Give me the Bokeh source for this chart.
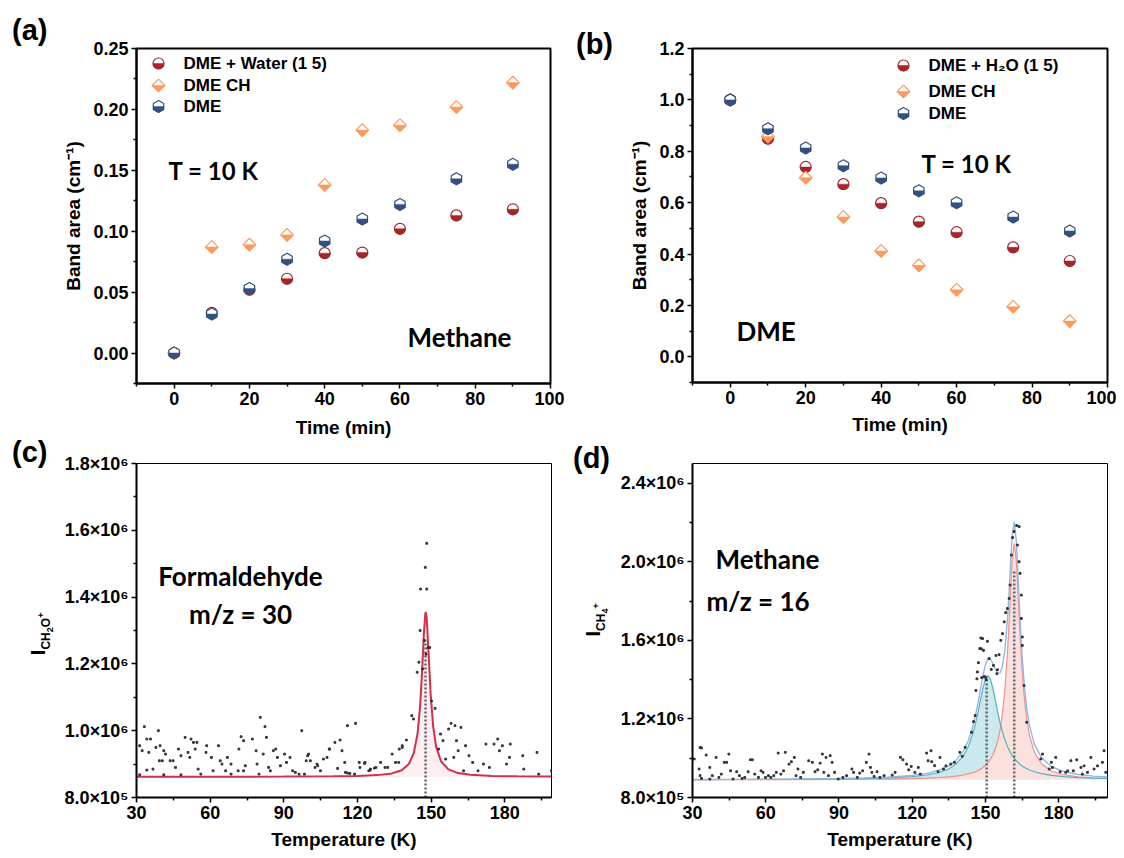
import numpy as np
from bokeh.plotting import figure
from bokeh.models import Range1d, FixedTicker, Label, NumeralTickFormatter, GridBox, Div
from bokeh.embed import file_html
from bokeh.resources import INLINE

# ---------------- data: panels (a) and (b) ----------------
time_min = [0, 10, 20, 30, 40, 50, 60, 75, 90]
a_dme_water = [0.0, 0.033, 0.052, 0.061, 0.082, 0.0825, 0.102, 0.113, 0.118]
a_dme_ch = [0.0, 0.087, 0.089, 0.097, 0.138, 0.183, 0.187, 0.202, 0.222]
a_dme = [0.0, 0.032, 0.053, 0.077, 0.092, 0.110, 0.122, 0.143, 0.155]

b_dme_water = [1.0, 0.849, 0.739, 0.672, 0.598, 0.526, 0.485, 0.426, 0.373]
b_dme_ch = [1.0, 0.857, 0.697, 0.544, 0.412, 0.356, 0.261, 0.195, 0.139]
b_dme = [1.0, 0.888, 0.813, 0.744, 0.696, 0.646, 0.600, 0.544, 0.490]

a_legend = ["DME + Water (1 5)", "DME CH", "DME"]
b_legend = ["DME + H\u2082O (1 5)", "DME CH", "DME"]

# ---------------- data: panel (c) TPD m/z = 30 (intensity in 1e6) ----------------
c_T = [33.2, 31.3, 32.3, 34.2, 35.0, 34.2, 31.3, 35.7, 36.7, 38.9,
       37.9, 39.6, 39.3, 40.5, 41.1, 41.8, 41.1, 43.7, 44.9, 45.9,
       47.1, 48.1, 48.1, 49.8, 51.0, 51.7, 52.2, 53.2, 54.6, 53.9,
       55.1, 56.2, 58.6, 58.3, 60.5, 61.2, 63.4, 64.1, 64.8, 66.3,
       67.0, 68.5, 68.5, 71.7, 72.6, 71.4, 73.6, 73.6, 74.3, 77.2,
       78.7, 79.1, 79.9, 80.4, 81.6, 82.3, 82.9, 83.8, 84.5, 85.7,
       86.7, 87.4, 88.6, 90.3, 91.1, 92.5, 93.6, 94.7, 96.2, 97.3,
       98.4, 99.1, 100.1, 100.8, 102.7, 103.5, 104.9, 106.1, 107.6, 108.6,
       110.8, 112.9, 113.7, 114.8, 115.9, 115.1, 116.9, 119.2, 118.8, 120.7,
       121.0, 123.1, 124.6, 125.3, 127.5, 129.4, 131.2, 134.1, 135.5, 137.0,
       138.2, 139.9, 142.1, 142.8, 144.3, 145.0, 145.5, 145.7, 146.5, 147.2,
       147.6, 148.2, 148.2, 147.9, 148.7, 149.4, 150.1, 151.6, 153.0, 153.8,
       154.8, 155.9, 157.1, 158.1, 159.2, 159.7, 161.0, 162.1, 160.3, 163.2,
       164.0, 165.4, 166.9, 169.1, 171.3, 172.3, 173.7, 175.6, 177.1, 177.8,
       179.0, 180.7, 182.2, 181.9, 187.3, 187.7, 193.1, 193.8, 199.0, 111.9,
       116.0, 125.1, 132.3, 136.8, 138.2, 99.7, 103.8, 108.5, 126.9, 122.8]
c_I = [1.012, 0.955, 0.940, 0.975, 0.935, 0.882, 0.868, 0.975, 0.885, 1.000,
       0.950, 0.955, 0.910, 0.910, 0.940, 0.930, 0.868, 0.910, 0.910, 0.890,
       0.945, 0.925, 0.868, 0.980, 0.935, 0.920, 0.975, 0.965, 0.965, 0.945,
       0.885, 0.870, 0.955, 0.935, 0.920, 0.880, 0.955, 0.910, 0.900, 0.880,
       0.920, 0.900, 0.870, 0.945, 0.982, 0.880, 0.970, 0.880, 0.895, 0.975,
       0.940, 0.900, 0.870, 1.040, 0.930, 1.012, 0.980, 0.890, 0.880, 0.940,
       0.945, 0.920, 0.895, 0.930, 0.905, 0.920, 0.880, 0.875, 0.870, 1.000,
       0.870, 0.910, 0.930, 0.910, 0.890, 0.900, 0.880, 0.915, 0.920, 0.945,
       0.965, 0.972, 0.940, 0.905, 1.015, 0.875, 0.872, 1.022, 0.870, 0.905,
       0.890, 0.905, 0.880, 0.885, 0.890, 0.905, 0.890, 0.930, 0.905, 0.945,
       0.955, 0.972, 1.045, 1.035, 1.175, 1.205, 1.300, 1.424, 1.185, 1.270,
       1.489, 1.561, 1.424, 1.229, 1.249, 1.249, 1.089, 1.067, 0.945, 0.990,
       0.970, 0.915, 1.005, 1.022, 0.920, 1.015, 0.940, 1.010, 0.970, 0.880,
       0.955, 0.925, 0.905, 0.880, 0.900, 0.960, 0.890, 0.960, 0.975, 0.940,
       0.955, 0.900, 0.960, 0.920, 0.925, 0.885, 0.935, 0.870, 0.880, 0.887,
       0.873, 0.882, 0.890, 0.905, 0.950, 0.925, 0.895, 0.945, 0.888, 0.902]

# fitted curve (c)
c_fit_T = [30, 60, 90, 110, 120, 128, 134, 138, 141, 143,
           144.5, 145.5, 146.3, 147, 147.6, 147.8, 148.2, 149, 149.8, 150.8,
           152, 154, 157, 161, 166, 175, 185, 199]
c_fit_I = [0.8621, 0.8623, 0.8626, 0.8634, 0.8645, 0.8670, 0.8722, 0.8817, 0.9013, 0.9350,
           0.9944, 1.0743, 1.1775, 1.2870, 1.3500, 1.3550, 1.3360, 1.2245, 1.1085, 1.0137,
           0.9531, 0.9085, 0.8843, 0.8731, 0.8679, 0.8647, 0.8634, 0.8628]
c_baseline = 0.862
c_peak_T = [147.7]
c_peak_top = [1.27]

# ---------------- data: panel (d) TPD m/z = 16 (intensity in 1e6) ----------------
d_T = [30.7, 33.1, 33.7, 32.7, 33.1, 33.7, 35.6, 37.1, 37.1, 38.1,
       39.7, 40.8, 41.8, 43.0, 44.0, 44.9, 45.6, 46.6, 48.1, 49.2,
       50.3, 51.4, 52.8, 53.7, 54.5, 55.5, 57.0, 58.1, 58.9, 59.9,
       61.1, 62.1, 63.3, 64.3, 65.1, 66.2, 67.3, 68.0, 69.5, 70.5,
       71.7, 72.4, 73.2, 74.3, 75.4, 77.6, 79.1, 80.2, 81.3, 82.3,
       83.2, 83.8, 84.7, 85.7, 86.4, 87.2, 88.2, 89.7, 91.6, 93.1,
       95.3, 96.0, 97.5, 98.5, 99.7, 101.2, 102.3, 102.9, 103.5, 104.4,
       105.6, 106.8, 108.5, 111.8, 113.0, 115.2, 116.2, 117.7, 118.6, 119.6,
       121.1, 122.5, 123.3, 125.9, 126.5, 127.7, 128.0, 129.2, 130.6, 131.4,
       132.8, 133.8, 135.8, 137.3, 139.5, 140.5, 141.7, 144.3, 145.1, 145.8,
       146.1, 146.5, 146.7, 147.1, 147.7, 148.1, 148.8, 149.2, 149.9, 150.8,
       151.5, 152.4, 153.3, 154.3, 154.7, 155.6, 156.3, 157.0, 157.7, 158.3,
       159.0, 159.7, 160.1, 160.6, 161.1, 161.7, 162.8, 163.8, 163.1, 163.8,
       164.2, 164.7, 164.7, 165.1, 165.1, 165.8, 166.9, 172.7, 177.0, 178.8,
       177.4, 176.1, 180.6, 182.9, 185.0, 187.4, 186.0, 189.1, 189.7, 198.6,
       197.9, 199.3, 194.5, 193.2, 190.4, 195.9, 191.8, 183.7, 173.4, 148.3,
       148.5, 149.5, 150.3, 154.9]
d_I = [0.996, 1.055, 1.052, 0.945, 0.911, 0.897, 1.016, 0.953, 0.894, 0.911,
       1.004, 0.902, 0.919, 0.979, 0.979, 1.021, 0.936, 0.894, 0.931, 0.911,
       0.897, 0.902, 0.931, 0.992, 0.992, 0.919, 0.902, 0.936, 0.928, 0.902,
       0.911, 0.902, 0.911, 0.928, 1.026, 0.919, 0.936, 1.030, 0.970, 0.982,
       1.004, 0.911, 0.945, 0.902, 0.928, 0.987, 0.979, 0.931, 0.941, 0.975,
       1.021, 0.928, 1.004, 0.911, 1.013, 0.979, 0.928, 0.894, 0.902, 0.911,
       0.945, 0.928, 0.902, 0.924, 0.936, 0.979, 1.021, 0.953, 0.928, 0.907,
       0.931, 0.902, 0.911, 0.914, 0.928, 1.004, 0.992, 0.970, 0.941, 0.958,
       0.928, 0.953, 0.919, 1.026, 0.987, 1.038, 0.982, 0.962, 0.931, 1.004,
       0.945, 0.961, 0.970, 0.979, 1.030, 1.010, 1.055, 1.132, 1.186, 1.217,
       1.345, 1.404, 1.439, 1.486, 1.558, 1.612, 1.609, 1.549, 1.413, 1.595,
       1.507, 1.452, 1.472, 1.523, 1.430, 1.527, 1.600, 1.634, 1.694, 1.741,
       1.762, 1.813, 1.881, 2.034, 2.123, 2.154, 2.184, 2.179, 2.085, 2.000,
       1.941, 1.830, 1.711, 1.617, 1.574, 1.370, 1.183, 0.996, 0.979, 1.004,
       0.953, 0.945, 0.931, 0.928, 0.987, 0.992, 0.936, 0.953, 0.919, 1.038,
       0.979, 0.928, 0.945, 1.004, 0.961, 0.961, 0.928, 0.936, 1.021, 1.557,
       1.410, 1.415, 1.400, 1.450]

# fitted curves (d)
d_fit_T = [30, 50, 70, 90, 100, 110, 120, 126, 131, 135,
           138, 141, 143, 145, 146, 147, 148, 149, 150, 151,
           152, 153, 154, 155, 156, 157, 158, 159, 159.5, 160,
           160.5, 161, 161.8, 162.6, 163, 163.5, 164, 164.5, 165, 166,
           167, 168, 170, 173, 177, 182, 188, 194, 200]
d_fit_peak1 = [0.8911, 0.8916, 0.8924, 0.8943, 0.8961, 0.8994, 0.9062, 0.9145, 0.9273, 0.9460,
               0.9705, 1.0130, 1.0600, 1.1320, 1.1800, 1.2370, 1.2985, 1.3580, 1.4030, 1.4200,
               1.4030, 1.3580, 1.2985, 1.2370, 1.1800, 1.1320, 1.0923, 1.0600, 1.0464, 1.0341,
               1.0231, 1.0130, 0.9991, 0.9873, 0.9820, 0.9760, 0.9705, 0.9654, 0.9609, 0.9528,
               0.9460, 0.9402, 0.9310, 0.9212, 0.9127, 0.9062, 0.9015, 0.8985, 0.8966]
d_fit_peak2 = [0.8906, 0.8909, 0.8913, 0.8921, 0.8928, 0.8940, 0.8962, 0.8984, 0.9013, 0.9049,
               0.9088, 0.9145, 0.9199, 0.9272, 0.9319, 0.9376, 0.9443, 0.9527, 0.9631, 0.9762,
               0.9932, 1.0154, 1.0452, 1.0862, 1.1441, 1.2280, 1.3523, 1.5335, 1.6482, 1.7753,
               1.9036, 2.0140, 2.0940, 2.0140, 1.9279, 1.8014, 1.6729, 1.5552, 1.4532, 1.2968,
               1.1907, 1.1184, 1.0321, 0.9706, 0.9351, 0.9160, 0.9056, 0.9004, 0.8974]
d_fit_sum = [0.8917, 0.8925, 0.8937, 0.8964, 0.8989, 0.9034, 0.9124, 0.9229, 0.9386, 0.9609,
             0.9893, 1.0375, 1.0899, 1.1692, 1.2219, 1.2846, 1.3528, 1.4207, 1.4761, 1.5062,
             1.5062, 1.4834, 1.4537, 1.4332, 1.4341, 1.4700, 1.5546, 1.7035, 1.8046, 1.9194,
             2.0367, 2.1370, 2.2031, 2.1113, 2.0199, 1.8874, 1.7534, 1.6306, 1.5241, 1.3596,
             1.2467, 1.1686, 1.0731, 1.0018, 0.9578, 0.9322, 0.9171, 0.9089, 0.9040]
d_baseline = 0.890
d_peak_T = [150.5, 161.8]
d_peak_top = [1.415, 1.95]

# ---------------- ticks ----------------
time_ticks = [0, 20, 40, 60, 80, 100]
time_minor = [-10, 10, 30, 50, 70, 90]
a_yticks = [0.0, 0.05, 0.10, 0.15, 0.20, 0.25]
a_yminor = [-0.025, 0.025, 0.075, 0.125, 0.175, 0.225]
b_yticks = [0.0, 0.2, 0.4, 0.6, 0.8, 1.0, 1.2]
b_yminor = [-0.1, 0.1, 0.3, 0.5, 0.7, 0.9, 1.1]
T_ticks = [30, 60, 90, 120, 150, 180]
T_minor = [45, 75, 105, 135, 165, 195]
c_yticks = [800000, 1000000, 1200000, 1400000, 1600000, 1800000]
c_ylabels = ["8.0\u00d710\u2075", "1.0\u00d710\u2076", "1.2\u00d710\u2076",
             "1.4\u00d710\u2076", "1.6\u00d710\u2076", "1.8\u00d710\u2076"]
c_yminor = [900000, 1100000, 1300000, 1500000, 1700000]
d_yticks = [800000, 1200000, 1600000, 2000000, 2400000]
d_ylabels = ["8.0\u00d710\u2075", "1.2\u00d710\u2076", "1.6\u00d710\u2076",
             "2.0\u00d710\u2076", "2.4\u00d710\u2076"]
d_yminor = [1000000, 1400000, 1800000, 2200000]

# ---------------- styling ----------------
RED = "#A3262A"
ORANGE = "#FB9A5C"
BLUE = "#33507E"
FONT_AX = "Liberation Sans"
FONT_TXT = "Lato"

# geometry (page px): figure origin, borders, frame size, ranges
GA = dict(ox=0, oy=0, left=136, right=14, top=43, bottom=62, fw=414, fh=335,
          xr=(-10, 100), yr=(-0.025, 0.25), lstand=9)
GB = dict(ox=564, oy=0, left=128, right=9, top=48, bottom=58, fw=415, fh=334,
          xr=(-10, 100), yr=(-0.1, 1.2), lstand=7)
GC = dict(ox=0, oy=440, left=134, right=15, top=23, bottom=59, fw=415, fh=334,
          xr=(30, 199), yr=(800000, 1800000), lstand=7)
GD = dict(ox=564, oy=440, left=124, right=13, top=14, bottom=68, fw=415, fh=334,
          xr=(30, 200), yr=(800000, 2500000), lstand=7)


def gx(g, px):
    return g["xr"][0] + (px - g["ox"] - g["left"]) * (g["xr"][1] - g["xr"][0]) / g["fw"]


def gy(g, py):
    return g["yr"][1] - (py - g["oy"] - g["top"]) * (g["yr"][1] - g["yr"][0]) / g["fh"]


def make_panel(g, xt, xm, yt, ym, xlabel, ylabel, frame_lw):
    p = figure(width=g["left"] + g["fw"] + g["right"],
               height=g["top"] + g["fh"] + g["bottom"],
               frame_width=g["fw"], frame_height=g["fh"],
               x_range=Range1d(*g["xr"]), y_range=Range1d(*g["yr"]),
               min_border_left=g["left"], min_border_right=g["right"],
               min_border_top=g["top"], min_border_bottom=g["bottom"],
               output_backend="svg", toolbar_location=None)
    p.grid.visible = False
    p.outline_line_color = "black"
    p.outline_line_width = frame_lw
    p.outline_line_alpha = 1.0
    p.xaxis.ticker = FixedTicker(ticks=xt, minor_ticks=xm)
    p.yaxis.ticker = FixedTicker(ticks=yt, minor_ticks=ym)
    for ax in (p.xaxis[0], p.yaxis[0]):
        ax.axis_line_width = 2
        ax.axis_line_color = "black"
        ax.major_tick_in = 0
        ax.major_tick_out = 5
        ax.minor_tick_in = 0
        ax.minor_tick_out = 3
        ax.major_tick_line_width = 1.5
        ax.minor_tick_line_width = 1.5
        ax.major_tick_line_color = "black"
        ax.minor_tick_line_color = "black"
        ax.major_label_text_font = FONT_AX
        ax.major_label_text_font_style = "bold"
        ax.major_label_text_font_size = "18px"
        ax.major_label_text_color = "black"
        ax.major_label_standoff = 3
        ax.axis_label_text_font = FONT_AX
        ax.axis_label_text_font_style = "bold"
        ax.axis_label_text_font_size = "19px"
        ax.axis_label_text_color = "black"
    p.xaxis.axis_label_standoff = g["lstand"]
    p.yaxis.axis_label_standoff = 6
    p.xaxis.axis_label = xlabel
    if ylabel:
        p.yaxis.axis_label = ylabel
    return p


def half_marker(p, g, xs, ys, shape, color, size):
    xs = np.asarray(xs, dtype=float)
    ys = np.asarray(ys, dtype=float)
    sx = g["fw"] / (g["xr"][1] - g["xr"][0])
    sy = g["fh"] / (g["yr"][1] - g["yr"][0])
    r = size / 2.0
    if shape == "circle":
        p.scatter(xs, ys, marker="circle", size=size, fill_color="white",
                  line_color=color, line_width=1.2)
        p.wedge(xs, ys, radius=r, radius_units="screen", start_angle=np.pi,
                end_angle=2 * np.pi, fill_color=color, line_color=color, line_width=0.5)
    elif shape == "hex":
        p.scatter(xs, ys, marker="hex", angle=np.pi / 2, size=size, fill_color="white",
                  line_color=color, line_width=1.2)
        dx = 0.866 * r / sx
        dy1 = 0.5 * r / sy
        dy2 = r / sy
        pxs = [[x - dx, x + dx, x + dx, x, x - dx] for x in xs]
        pys = [[y, y, y - dy1, y - dy2, y - dy1] for y in ys]
        p.patches(pxs, pys, fill_color=color, line_color=color, line_width=0.5)
    else:  # diamond = square rotated 45 degrees
        p.scatter(xs, ys, marker="square", angle=np.pi / 4, size=size, fill_color="white",
                  line_color=color, line_width=1.2)
        R = size * np.sqrt(2) / 2.0
        pxs = [[x - R / sx, x + R / sx, x] for x in xs]
        pys = [[y, y, y - R / sy] for y in ys]
        p.patches(pxs, pys, fill_color=color, line_color=color, line_width=0.5)


def add_label(p, g, px, py, text, font, size, align="left", baseline="alphabetic"):
    p.add_layout(Label(x=gx(g, px), y=gy(g, py), text=text, text_font=font,
                       text_font_style="bold", text_font_size=size, text_color="black",
                       text_align=align, text_baseline=baseline))


SIZES = dict(circle=11, hex=12, diamond=9)

# ---------------- panel (a) ----------------
pa = make_panel(GA, time_ticks, time_minor, a_yticks, a_yminor,
                "Time (min)", "Band area (cm\u207b\u00b9)", 2)
pa.yaxis.formatter = NumeralTickFormatter(format="0.00")
for vals, shape, col in [(a_dme_water, "circle", RED), (a_dme_ch, "diamond", ORANGE),
                         (a_dme, "hex", BLUE)]:
    half_marker(pa, GA, time_min, vals, shape, col, SIZES[shape])
for (lbl, shape, col), py in zip(zip(a_legend, ["circle", "diamond", "hex"], [RED, ORANGE, BLUE]),
                                 [58, 80, 101]):
    half_marker(pa, GA, [gx(GA, 158)], [gy(GA, py)], shape, col, SIZES[shape])
    add_label(pa, GA, 183, py, lbl, FONT_AX, "17px", baseline="middle")
add_label(pa, GA, 168, 165, "T = 10 K", FONT_TXT, "24px")
add_label(pa, GA, 407, 331, "Methane", FONT_TXT, "26px")

# ---------------- panel (b) ----------------
pb = make_panel(GB, time_ticks, time_minor, b_yticks, b_yminor,
                "Time (min)", "Band area (cm\u207b\u00b9)", 2)
pb.yaxis.formatter = NumeralTickFormatter(format="0.0")
for vals, shape, col in [(b_dme_water, "circle", RED), (b_dme_ch, "diamond", ORANGE),
                         (b_dme, "hex", BLUE)]:
    half_marker(pb, GB, time_min, vals, shape, col, SIZES[shape])
for (lbl, shape, col), py in zip(zip(b_legend, ["circle", "diamond", "hex"], [RED, ORANGE, BLUE]),
                                 [65, 91, 113]):
    half_marker(pb, GB, [gx(GB, 903)], [gy(GB, py)], shape, col, SIZES[shape])
    add_label(pb, GB, 928, py, lbl, FONT_AX, "17px", baseline="middle")
add_label(pb, GB, 921, 163, "T = 10 K", FONT_TXT, "24px")
add_label(pb, GB, 736, 330, "DME", FONT_TXT, "26px")

# ---------------- panel (c) ----------------
pc = make_panel(GC, T_ticks, T_minor, c_yticks, c_yminor, "Temperature (K)", None, 1)
pc.yaxis.major_label_overrides = dict(zip(c_yticks, c_ylabels))
cfT = np.array(c_fit_T)
cfI = np.array(c_fit_I) * 1e6
pc.varea(x=cfT, y1=c_baseline * 1e6, y2=cfI, fill_color="#E88DA0", fill_alpha=0.15)
pc.line(cfT, cfI, line_color="#D32F4B", line_width=2)
pc.segment(x0=c_peak_T, y0=[800000] * len(c_peak_T), x1=c_peak_T,
           y1=[v * 1e6 for v in c_peak_top], line_color="#666666", line_width=2.5,
           line_dash="2 2")
pc.scatter(c_T, np.array(c_I) * 1e6, marker="square", size=1.8, color="#333333")
add_label(pc, GC, 238, 575, "Formaldehyde", FONT_TXT, "26px", align="center")
add_label(pc, GC, 238, 613, "m/z = 30", FONT_TXT, "26px", align="center")

# ---------------- panel (d) ----------------
pd = make_panel(GD, T_ticks, T_minor, d_yticks, d_yminor, "Temperature (K)", None, 1)
pd.yaxis.major_label_overrides = dict(zip(d_yticks, d_ylabels))
dT = np.array(d_fit_T)
p1 = np.array(d_fit_peak1) * 1e6
p2 = np.array(d_fit_peak2) * 1e6
ps = np.array(d_fit_sum) * 1e6
pd.varea(x=dT, y1=d_baseline * 1e6, y2=p2, fill_color="#F09A90", fill_alpha=0.3)
m = p1 >= p2
pd.varea(x=dT[m], y1=p2[m], y2=p1[m], fill_color="#6BBCC9", fill_alpha=0.35)
pd.line(dT, p2, line_color="#F0918E", line_width=1.2)
pd.line(dT, p1, line_color="#5AAFC0", line_width=1.2)
pd.line(dT, ps, line_color="#92B8E2", line_width=1.4)
pd.segment(x0=d_peak_T, y0=[800000] * len(d_peak_T), x1=d_peak_T,
           y1=[v * 1e6 for v in d_peak_top], line_color="#666666", line_width=2.5,
           line_dash="2 2")
pd.scatter(d_T, np.array(d_I) * 1e6, marker="square", size=1.8, color="#333333")
add_label(pd, GD, 711, 549, "Methane", FONT_TXT, "26px")
add_label(pd, GD, 702, 591, "m/z = 16", FONT_TXT, "26px")

# ---------------- texts outside the plot frames (HTML overlays) ----------------
LETTER_STYLE = {"font-family": FONT_AX, "font-weight": "bold", "font-size": "29px",
                "line-height": "24px", "color": "black", "white-space": "nowrap"}


def letter(text, left, top):
    return Div(text=text, margin=(top, 0, 0, left), align="start", styles=LETTER_STYLE)


def ylabel_div(sub_html, left, top):
    html = ('<span style="font-size:21px">I</span>'
            '<span style="font-size:12px; vertical-align:-5px">' + sub_html + '</span>')
    styles = {"font-family": FONT_AX, "font-weight": "bold", "line-height": "26px",
              "color": "black", "white-space": "nowrap", "text-align": "center",
              "transform": "rotate(-90deg)"}
    return Div(text=html, width=44, height=26, margin=(top, 0, 0, left), align="start",
               styles=styles)


sub_c = ('CH<span style="font-size:9px; vertical-align:-3px">2</span>'
         'O<span style="font-size:9px; vertical-align:6px">+</span>')
sub_d = ('CH<span style="font-size:9px; vertical-align:-3px">4</span>'
         '<span style="font-size:9px; vertical-align:6px">+</span>')

layout = GridBox(children=[
    (pa, 0, 0), (pb, 0, 1), (pc, 1, 0), (pd, 1, 1),
    (letter("(a)", 12, 18), 0, 0),
    (letter("(b)", 12, 32), 0, 1),
    (letter("(c)", 12, 0), 1, 0),
    (letter("(d)", 9, 6), 1, 1),
    (ylabel_div(sub_c, 16, 181), 1, 0),
    (ylabel_div(sub_d, 7, 167), 1, 1),
], spacing=0)

open("out.html", "w").write(file_html(layout, INLINE))
